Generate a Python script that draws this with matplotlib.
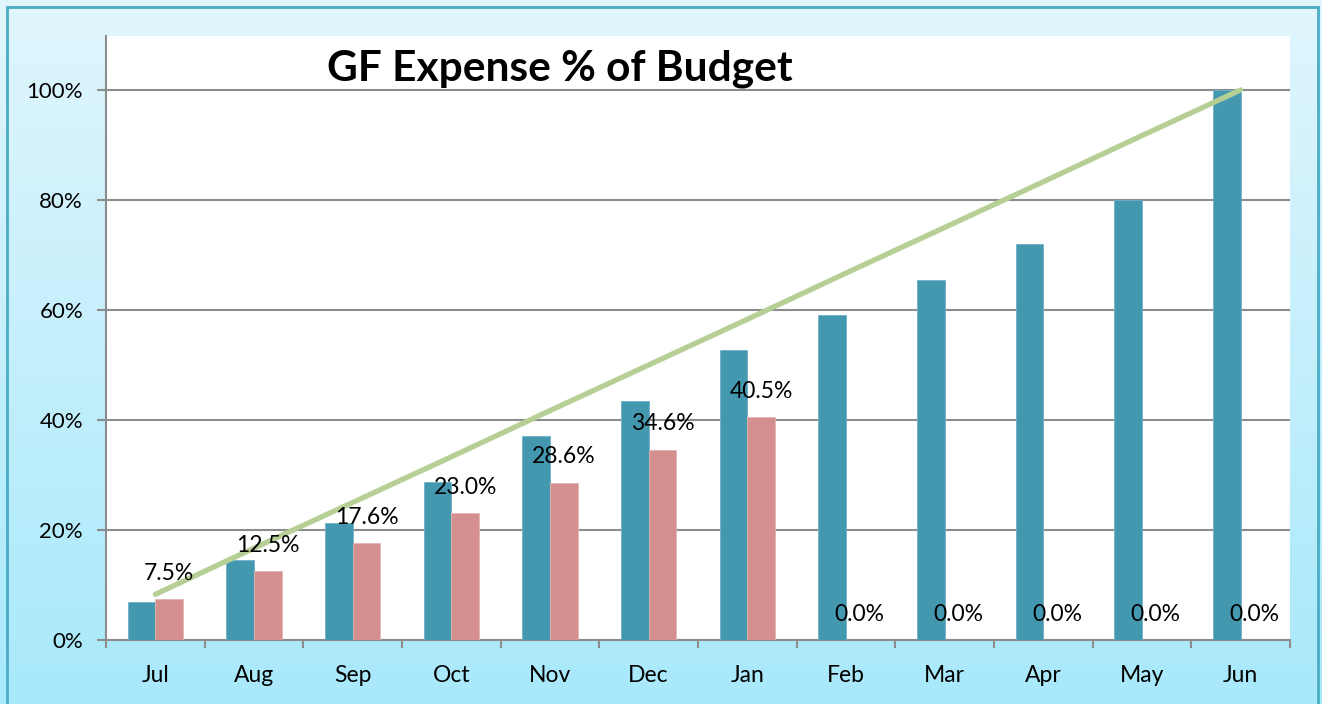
import numpy as np
import matplotlib
matplotlib.use("Agg")
import matplotlib.pyplot as plt
from matplotlib.patches import Rectangle
from matplotlib.ticker import PercentFormatter

# data
months = ["Jul", "Aug", "Sep", "Oct", "Nov", "Dec",
          "Jan", "Feb", "Mar", "Apr", "May", "Jun"]
prior_year = [0.069, 0.145, 0.213, 0.288, 0.371, 0.434,
              0.527, 0.590, 0.654, 0.719, 0.800, 1.000]
current_year = [0.075, 0.125, 0.176, 0.230, 0.286, 0.346,
                0.405, 0.0, 0.0, 0.0, 0.0, 0.0]
target = [0.083, 0.167, 0.250, 0.333, 0.417, 0.500,
          0.583, 0.667, 0.750, 0.833, 0.917, 1.000]

TEAL = "#4398B0"
PINK = "#D4908F"
GREEN = "#B5CF94"
GRID = "#8C8C8C"

plt.rcParams["font.family"] = ["Lato", "DejaVu Sans"]

fig = plt.figure(figsize=(13.22, 7.04), dpi=100)

# gradient background
bg = fig.add_axes([0, 0, 1, 1], zorder=-10)
grad = np.linspace(0, 1, 256).reshape(-1, 1)
top_c = np.array([225, 246, 253]) / 255
bot_c = np.array([168, 233, 251]) / 255
img = top_c[None, None, :] * (1 - grad[:, :, None]) + bot_c[None, None, :] * grad[:, :, None]
bg.imshow(img, aspect="auto", extent=[0, 1, 0, 1])
bg.set_xlim(0, 1)
bg.set_ylim(0, 1)
bg.axis("off")
bg.add_patch(Rectangle((7 / 1322, -0.01), (1318 - 7) / 1322, 1.01 - 7 / 704,
                       fill=False, edgecolor="#4BACC6", linewidth=2))

ax = fig.add_axes([106 / 1322, (704 - 640) / 704, (1290 - 106) / 1322, (640 - 36) / 704])
ax.set_facecolor("white")

x = np.arange(len(months))
w = 0.28
ax.bar(x - w / 2, prior_year, w, color=TEAL, edgecolor="#6FB3C6", linewidth=0.6, zorder=3)
ax.bar(x + w / 2, current_year, w, color=PINK, edgecolor="#E3B3B2", linewidth=0.6, zorder=3)
ax.plot(x, target, color=GREEN, linewidth=3.8, solid_capstyle="round", zorder=4)

for xi, v in zip(x, current_year):
    ax.annotate(f"{v * 100:.1f}%", (xi + w / 2, v), xytext=(0, 18.5),
                textcoords="offset points", ha="center", va="center",
                fontsize=16.5, color="black", zorder=5)

ax.set_xlim(-0.5, len(months) - 0.5)
ax.set_ylim(0, 1.098)
ax.set_yticks(np.arange(0, 1.01, 0.2))
ax.yaxis.set_major_formatter(PercentFormatter(1.0, decimals=0))
ax.grid(axis="y", color=GRID, linewidth=1.5, zorder=0)
ax.set_axisbelow(True)

ax.set_xticks(np.arange(-0.5, len(months), 1.0))
ax.set_xticklabels([])
ax.set_xticks(x, minor=True)
ax.set_xticklabels(months, minor=True)
ax.tick_params(axis="x", which="major", length=6, width=1.5, color=GRID, direction="out")
ax.tick_params(axis="x", which="minor", length=0, pad=18, labelsize=16.5)
ax.tick_params(axis="y", length=6.5, width=1.5, color=GRID, pad=10, labelsize=16)

for side in ("top", "right"):
    ax.spines[side].set_visible(False)
for side in ("left", "bottom"):
    ax.spines[side].set_color(GRID)
    ax.spines[side].set_linewidth(1.5)

fig.text(560 / 1322, 1 - 69 / 704, "GF Expense % of Budget", ha="center", va="center",
         fontsize=30.5, fontweight="bold", color="black")

fig.savefig("out.png", dpi=100)
plt.close(fig)
